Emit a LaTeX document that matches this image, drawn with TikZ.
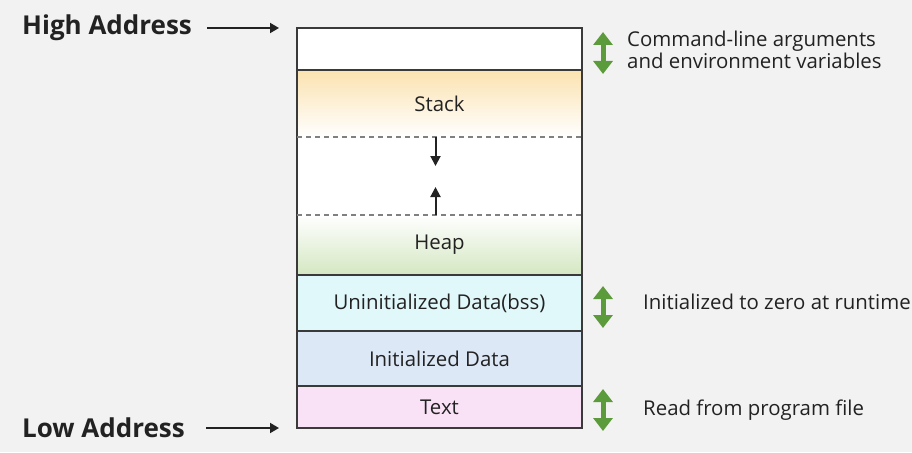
\documentclass[tikz,border=0pt]{standalone}
\usepackage{fontspec}
\setmainfont{Open Sans}
\usetikzlibrary{positioning, arrows.meta}

\begin{document}
\begin{tikzpicture}[x=1pt, y=-1pt, font=\fontsize{20.4}{22}\selectfont, >=latex]
        % colours
        \colorlet{bgcolor}{black!5}
        \definecolor{framegray}{HTML}{3A3A3A}
        \definecolor{textgray}{HTML}{222222}
        \definecolor{stackorange}{HTML}{FBE2B0}
        \definecolor{heapgreen}{HTML}{D4E7C2}
        \definecolor{bsscyan}{HTML}{E1F8FB}
        \definecolor{initblue}{HTML}{DDE8F7}
        \definecolor{textpink}{HTML}{FAE2F6}
        \definecolor{arrowgreen}{HTML}{5C9B3B}

        % styles
        \tikzset{
            seg/.style={minimum width=285pt, inner sep=0pt, outer sep=0pt, text=textgray},
            frame/.style={draw=framegray, line width=1.2pt},
            divider/.style={framegray, line width=1.2pt},
            gapline/.style={gray, line width=1.2pt, dash pattern=on 5pt off 4pt},
            growth/.style={-{Triangle[width=10pt,length=10pt]}, line width=2pt, textgray},
            pointer/.style={-{Triangle[width=10pt,length=9pt]}, line width=1.8pt, textgray},
            span/.style={{Triangle[width=19pt,length=13pt]}-{Triangle[width=19pt,length=13pt]}, line width=5pt, arrowgreen},
            addr/.style={font=\fontsize{26}{30}\selectfont\bfseries, text=textgray, inner sep=0pt},
            note/.style={text=textgray, inner sep=0pt, align=left, anchor=west}
        }

        % background
        \fill[bgcolor] (0,0) rectangle (912,452);
        \useasboundingbox (0,0) rectangle (912,452);

        % --- memory segments, from high to low address ---
        \node[seg, fill=white, minimum height=42pt] (args) at (439.5,49) {};
        \node[seg, top color=stackorange, bottom color=white, minimum height=67pt, below=0pt of args] (stack) {Stack};
        \node[seg, fill=white, minimum height=78pt, below=0pt of stack] (gap) {};
        \node[seg, top color=white, bottom color=heapgreen, minimum height=60pt, below=0pt of gap] (heap) {Heap};
        \node[seg, fill=bsscyan, minimum height=56pt, below=0pt of heap] (bss) {Uninitialized Data(bss)};
        \node[seg, fill=initblue, minimum height=55pt, below=0pt of bss] (init) {Initialized Data};
        \node[seg, fill=textpink, minimum height=42pt, below=0pt of init] (text) {Text};

        % outline and borders
        \draw[frame] (args.north west) rectangle (text.south east);
        \foreach \s in {args, heap, bss, init} {
            \draw[divider] (\s.south west) -- (\s.south east);
        }
        \draw[gapline] (gap.north west) -- (gap.north east);
        \draw[gapline] (gap.south west) -- (gap.south east);

        % stack grows down, heap grows up
        \coordinate (stacktip) at ([xshift=-4pt,yshift=-29pt]gap.north);
        \coordinate (heaptip) at ([xshift=-4pt,yshift=28pt]gap.south);
        \draw[growth] ([xshift=-4pt]gap.north) -- (stacktip);
        \draw[growth] ([xshift=-4pt]gap.south) -- (heaptip);

        % --- address labels ---
        \node[addr, anchor=west] (high) at (22,28) {High Address};
        \node[addr, anchor=west] (low) at (22,428) {Low Address};
        \draw[pointer, shorten <=15pt, shorten >=18pt] (high.east) -- (high.east -| args.west);
        \draw[pointer, shorten <=21pt, shorten >=18pt] (low.east) -- (low.east -| text.west);

        % --- notes on the right ---
        \coordinate (argstop) at ([xshift=21pt,yshift=-4pt]args.north east);
        \coordinate (argsbot) at ([xshift=21pt,yshift=-4pt]args.south east);
        \coordinate (bsstop) at ([xshift=21pt,yshift=-11pt]bss.north east);
        \coordinate (bssbot) at ([xshift=21pt,yshift=3pt]bss.south east);
        \coordinate (texttop) at ([xshift=21pt,yshift=-3pt]text.north east);
        \coordinate (textbot) at ([xshift=21pt,yshift=-3pt]text.south east);
        \draw[span] (argstop) -- (argsbot);
        \draw[span] (bsstop) -- (bssbot);
        \draw[span] (texttop) -- (textbot);

        \node[note] (argsnote) at (627,50) {Command-line arguments\\and environment variables};
        \node[note] (bssnote) at (643,302) {Initialized to zero at runtime};
        \node[note] (textnote) at (643,410) {Read from program file};
\end{tikzpicture}
\end{document}
